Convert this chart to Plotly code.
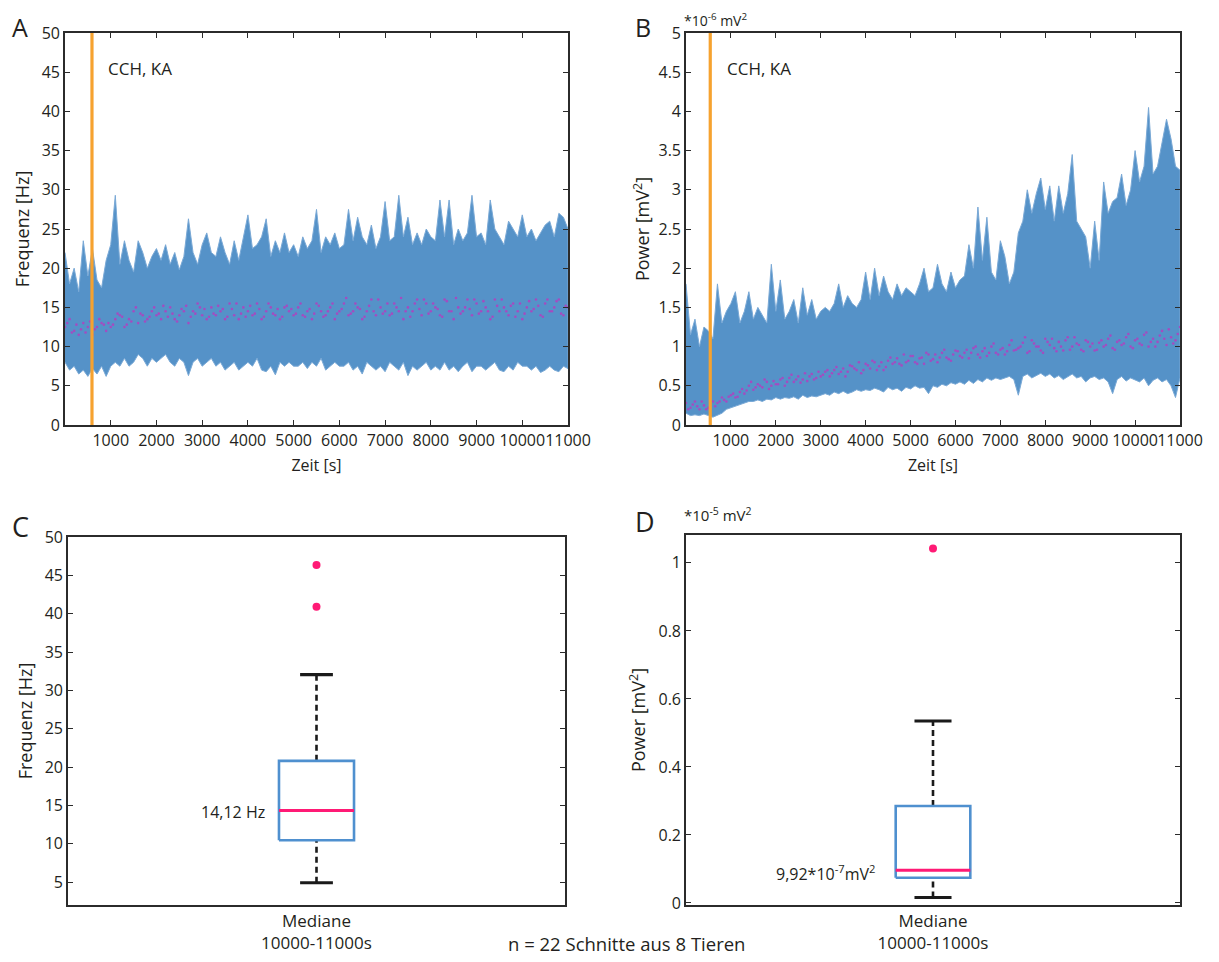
import plotly.graph_objects as go

W, H = 1219, 962
OFF = 8  # page body margin of the html output
FONT = "Open Sans"
BLUE = "#5592c8"
MAG = "#ff1a75"
PURPLE = "#b23fc0"
ORANGE = "#f6a22f"
AX = "#2b2b2b"
TXT = "#231f20"

# ---------------- data ----------------
t_main = list(range(0, 11001, 100))          # seconds
t_half = list(range(50, 11000, 100))

freq_upper = [22, 18, 20, 17, 23.5, 19, 22.5, 18.5, 17.5, 21, 23,
              29.3, 20.5, 23.5, 21, 19.5, 23.5, 22, 20, 21.5, 22.5,
              21, 23, 20.5, 22, 19.8, 21.5, 26.3, 22, 20.5, 23,
              24.5, 22, 21.5, 24, 22, 20.5, 23.5, 21, 24, 26.8,
              22.5, 23, 24, 26.3, 21.5, 23.5, 22, 24.5, 22, 23,
              21.5, 24, 22.5, 23.5, 27.5, 22, 24, 23, 24.5, 22.5,
              23, 27.5, 23.5, 26.5, 24, 23, 25.5, 22.5, 24, 28.5,
              23.5, 24, 29.3, 24, 26.5, 23, 24.5, 23, 25, 24,
              23.5, 28.7, 24, 28.7, 23, 25, 23.5, 24.5, 29.3, 24,
              24.5, 23, 28.7, 25, 24, 23, 26, 25, 24, 26.8,
              24, 25, 23.5, 24.5, 25.5, 26, 24, 27, 26.5, 25]
freq_lower = [8, 7, 7.5, 6.5, 7, 6.2, 7.2, 6.5, 7.5, 6.2, 7.5,
              8, 7.5, 8.5, 7.5, 8, 9, 8.5, 7.5, 8.5, 8,
              8.5, 9, 8, 7.5, 8.5, 8, 6.3, 8, 8.5, 7.5,
              8, 8.5, 7.5, 8, 7, 7.5, 8, 7, 7.5, 8,
              7.5, 8.5, 7, 6.8, 7.5, 6.4, 8, 7.5, 8, 7.5,
              7.5, 8, 7.2, 8, 7.5, 8.5, 7, 7.5, 8, 7.5,
              7.5, 8, 7, 7.5, 6.5, 8, 7.5, 7, 7.5, 6.8,
              8, 7.5, 7, 8, 6.3, 7.5, 7, 7.5, 8, 7,
              7.5, 7, 8, 7, 7.5, 6.8, 7.5, 8, 6.8, 7.5,
              7.5, 7, 7.5, 8, 7, 6.8, 7.5, 7, 8, 7.5,
              7.5, 7, 7.5, 6.7, 7, 7.5, 7, 6.8, 7.5, 7.2]
freq_med = [12.5, 13.5, 12, 11.5, 13, 12.5, 11.5, 12.5, 13, 12, 12.5,
            13.5, 14, 12.5, 13.5, 14.5, 13, 14, 13.5, 14.5, 14,
            13.5, 14.5, 15, 13.5, 14, 14.5, 13, 14.5, 15.5, 14,
            13.5, 15, 14, 14.5, 13.5, 15.5, 14, 13.5, 15, 14.5,
            14, 15.5, 13.5, 14.5, 15, 14, 13.5, 15, 14.5, 14,
            15, 14, 14.5, 13.5, 15.5, 14.5, 14, 15, 13.5, 14.5,
            15.5, 14, 14.5, 15, 13.5, 14.5, 16, 14, 15, 14.5,
            14, 15.5, 14.5, 13.5, 15, 14.5, 16, 14, 15.5, 14.5,
            15, 14, 16, 14.5, 13.5, 15, 14.5, 16, 14, 15.5,
            14.5, 15, 13.5, 16, 14.5, 15, 14, 15.5, 14.5, 13.5,
            15, 14.5, 16, 14, 15.5, 14.5, 15, 16, 14, 15]
freq_med2 = [13, 11.8, 12.8, 12.2, 11.8, 13.2, 12.2, 13.5, 12.8, 13,
             12.8, 14.2, 13.8, 12.8, 13.2, 15, 14.2, 13.2, 13.8, 15,
             14.2, 15.2, 13.8, 14.2, 13.2, 14.8, 15.2, 13.8, 14.2, 15,
             14.8, 13.8, 14.2, 15.2, 14.8, 13.8, 14.8, 15.5, 14.2, 13.8,
             15.2, 14.2, 14.8, 13.8, 15.5, 14.2, 14.8, 13.8, 15.2, 14.8,
             14.2, 15.5, 13.8, 14.8, 14.2, 15.2, 13.8, 14.5, 15.5, 14.2,
             14.8, 16.2, 14.2, 15.5, 14.8, 13.8, 15.2, 14.5, 16, 14.2,
             15.5, 14.2, 15, 16.2, 14.5, 13.8, 15.5, 14.8, 16, 14.2,
             15.5, 14.8, 13.8, 15.8, 14.5, 16.2, 14.2, 15, 14.8, 16,
             14.2, 15.8, 14.5, 13.8, 15.2, 16, 14.5, 15.2, 13.8, 15.5,
             14.2, 15.8, 14.8, 15.2, 13.8, 16, 14.5, 15.8, 14.2, 15.2]

pow_upper = [1.8, 1.15, 1.35, 1.0, 1.25, 1.2, 1.1, 1.8, 1.3, 1.45, 1.55,
             1.7, 1.3, 1.45, 1.7, 1.35, 1.5, 1.4, 1.3, 2.05, 1.45,
             1.85, 1.35, 1.45, 1.6, 1.3, 1.75, 1.4, 1.6, 1.35, 1.45,
             1.5, 1.45, 1.55, 1.8, 1.5, 1.65, 1.55, 1.5, 1.6, 1.95,
             1.6, 2.0, 1.65, 1.9, 1.7, 1.6, 1.8, 1.65, 1.75, 1.7,
             1.65, 1.8, 2.0, 1.7, 1.75, 2.05, 1.8, 1.7, 1.95, 1.75,
             1.85, 1.9, 2.3, 2.0, 2.78, 2.1, 2.65, 1.95, 1.85, 2.35,
             2.15, 1.8, 1.95, 2.45, 2.6, 3.0, 2.7, 2.95, 3.15, 2.75,
             3.05, 2.6, 3.05, 2.7, 2.95, 3.45, 2.6, 2.5, 2.4, 2.0,
             2.6, 2.1, 3.1, 2.7, 2.85, 2.9, 3.2, 2.8, 3.0, 3.5,
             3.1, 3.3, 4.05, 3.2, 3.3, 3.6, 3.9, 3.65, 3.3, 3.25]
pow_lower = [0.15, 0.12, 0.13, 0.12, 0.14, 0.12, 0.1, 0.12, 0.15, 0.2, 0.22,
             0.25, 0.27, 0.28, 0.3, 0.3, 0.32, 0.3, 0.33, 0.32, 0.35,
             0.33, 0.35, 0.34, 0.36, 0.33, 0.38, 0.35, 0.37, 0.36, 0.38,
             0.4, 0.38, 0.42, 0.4, 0.43, 0.4, 0.42, 0.45, 0.43, 0.45,
             0.44, 0.47, 0.45, 0.42, 0.48, 0.45, 0.47, 0.43, 0.48, 0.46,
             0.5, 0.47, 0.48, 0.4, 0.5, 0.48, 0.52, 0.5, 0.54, 0.52,
             0.55, 0.52, 0.57, 0.53, 0.58, 0.55, 0.6, 0.57, 0.6, 0.58,
             0.6, 0.62, 0.58, 0.38, 0.62, 0.65, 0.6, 0.63, 0.66, 0.62,
             0.65, 0.6, 0.63, 0.58, 0.62, 0.65, 0.6, 0.62, 0.55, 0.6,
             0.62, 0.58, 0.6, 0.55, 0.4, 0.58, 0.62, 0.56, 0.6, 0.58,
             0.55, 0.6, 0.5, 0.57, 0.6, 0.55, 0.58, 0.5, 0.35, 0.6]
pow_med = [0.28, 0.22, 0.3, 0.2, 0.25, 0.22, 0.3, 0.28, 0.35, 0.3, 0.38,
           0.35, 0.42, 0.4, 0.5, 0.45, 0.52, 0.48, 0.55, 0.5, 0.52,
           0.58, 0.5, 0.6, 0.55, 0.62, 0.58, 0.56, 0.65, 0.6, 0.62,
           0.68, 0.62, 0.7, 0.65, 0.72, 0.68, 0.75, 0.7, 0.66, 0.78,
           0.72, 0.8, 0.75, 0.7, 0.82, 0.78, 0.85, 0.76, 0.8, 0.88,
           0.8, 0.85, 0.78, 0.9, 0.84, 0.8, 0.92, 0.86, 0.82, 0.95,
           0.88, 0.92, 0.85, 0.98, 0.9, 0.94, 0.88, 1.0, 0.92, 0.96,
           0.9, 1.02, 0.95, 0.98, 1.05, 0.92, 1.08, 1.0, 0.95, 1.1,
           1.02, 0.98, 1.06, 0.95, 1.12, 1.0, 1.04, 0.96, 1.08, 1.0,
           0.95, 1.05, 1.0, 1.1, 0.98, 1.06, 1.02, 1.12, 1.0, 1.08,
           1.04, 1.15, 1.0, 1.1, 1.06, 1.2, 1.02, 1.12, 1.08, 1.25]
pow_med2 = [0.2, 0.26, 0.24, 0.3, 0.2, 0.26, 0.24, 0.3, 0.32, 0.36,
            0.4, 0.36, 0.46, 0.44, 0.55, 0.48, 0.5, 0.58, 0.46, 0.56,
            0.52, 0.6, 0.55, 0.64, 0.58, 0.54, 0.66, 0.62, 0.58, 0.68,
            0.64, 0.7, 0.66, 0.74, 0.68, 0.62, 0.76, 0.72, 0.8, 0.7,
            0.76, 0.82, 0.7, 0.8, 0.74, 0.86, 0.8, 0.78, 0.9, 0.82,
            0.88, 0.78, 0.86, 0.92, 0.82, 0.9, 0.86, 0.96, 0.84, 0.9,
            0.94, 0.86, 0.96, 0.92, 1.0, 0.86, 0.98, 0.92, 1.04, 0.9,
            0.98, 0.94, 1.08, 0.96, 1.0, 1.12, 0.94, 1.04, 1.0, 0.92,
            1.06, 1.1, 0.94, 1.0, 1.08, 0.96, 1.12, 1.02, 0.94, 1.06,
            1.04, 0.96, 1.08, 1.02, 1.14, 0.96, 1.08, 1.04, 1.16, 0.98,
            1.1, 1.02, 1.18, 1.06, 1.0, 1.14, 1.1, 1.22, 1.04, 1.16]

drug_time_freq = 590
drug_time_pow = 540
drug_label = "CCH, KA"

# box statistics (10000-11000 s)
box_freq = dict(lo=4.9, q1=10.45, med=14.32, q3=20.8, hi=32.05, out=[46.35, 40.9])
box_pow = dict(lo=0.016, q1=0.074, med=0.096, q3=0.285, hi=0.535, out=[1.042])
box_category = "Mediane<br>10000-11000s"
time_ticks = [1000, 2000, 3000, 4000, 5000, 6000, 7000, 8000, 9000, 10000, 11000]
time_ticktext = ["1000", "2000", "3000", "4000", "5000", "6000", "7000", "8000",
                 "9000", "10000", "11000"]

# ---------------- figure ----------------
fig = go.Figure()


def dom_x(a, b):
    return [(a - OFF) / W, (b - OFF) / W]


def dom_y(top, bottom):
    return [1 - (bottom - OFF) / H, 1 - (top - OFF) / H]


def add_band(t, up, lo, xa, ya):
    fig.add_trace(go.Scatter(
        x=t + t[::-1], y=up + lo[::-1], fill="toself", fillcolor=BLUE,
        line=dict(color="#7aa9d6", width=1), mode="lines", xaxis=xa, yaxis=ya,
        hoverinfo="skip", showlegend=False))


def add_dots(t, v, xa, ya):
    fig.add_trace(go.Scatter(
        x=t, y=v, mode="markers", marker=dict(color=PURPLE, size=2.6, opacity=0.85),
        xaxis=xa, yaxis=ya, showlegend=False))


def add_vline(x0, ymax, xa, ya):
    fig.add_trace(go.Scatter(
        x=[x0, x0], y=[0, ymax], mode="lines", line=dict(color=ORANGE, width=3.2),
        xaxis=xa, yaxis=ya, showlegend=False))


add_band(t_main, freq_upper, freq_lower, "x", "y")
add_dots(t_main, freq_med, "x", "y")
add_dots(t_half, freq_med2, "x", "y")
add_vline(drug_time_freq, 50, "x", "y")

add_band(t_main, pow_upper, pow_lower, "x2", "y2")
add_dots(t_main, pow_med, "x2", "y2")
add_dots(t_half, pow_med2, "x2", "y2")
add_vline(drug_time_pow, 5, "x2", "y2")

BOX_HALF = 0.151


def add_box(s, xa, ya, cap_half):
    c = 1
    kw = dict(xaxis=xa, yaxis=ya, showlegend=False, mode="lines")
    fig.add_trace(go.Scatter(x=[c, c], y=[s["q3"], s["hi"]],
                             line=dict(color="#1a1a1a", width=2.6, dash="6px,4px"), **kw))
    fig.add_trace(go.Scatter(x=[c, c], y=[s["lo"], s["q1"]],
                             line=dict(color="#1a1a1a", width=2.6, dash="6px,4px"), **kw))
    for v in (s["hi"], s["lo"]):
        fig.add_trace(go.Scatter(x=[c - cap_half, c + cap_half], y=[v, v],
                                 line=dict(color="#1a1a1a", width=3.2), **kw))
    fig.add_trace(go.Scatter(
        x=[c - BOX_HALF, c + BOX_HALF, c + BOX_HALF, c - BOX_HALF, c - BOX_HALF],
        y=[s["q1"], s["q1"], s["q3"], s["q3"], s["q1"]],
        line=dict(color="#4f90cf", width=2.6), **kw))
    fig.add_trace(go.Scatter(x=[c - BOX_HALF, c + BOX_HALF], y=[s["med"], s["med"]],
                             line=dict(color=MAG, width=3), **kw))
    fig.add_trace(go.Scatter(x=[c] * len(s["out"]), y=s["out"], mode="markers",
                             marker=dict(color=MAG, size=8), xaxis=xa, yaxis=ya,
                             showlegend=False))


add_box(box_freq, "x3", "y3", 0.066)
add_box(box_pow, "x4", "y4", 0.075)

tickfont = dict(family=FONT, size=16, color=TXT)
axcommon = dict(showline=True, linecolor=AX, linewidth=1.6, mirror="allticks",
                ticks="inside", ticklen=5, tickcolor=AX, tickwidth=1.2,
                showgrid=False, zeroline=False, tickfont=tickfont, tickangle=0,
                automargin=False)
ytitlefont = dict(family=FONT, size=18, color=TXT)
xtitlefont = dict(family=FONT, size=16, color=TXT)
catfont = dict(family=FONT, size=17, color=TXT)

xA = dom_x(65, 568)
xB = dom_x(686, 1180)
xC = dom_x(68, 565)
xD = dom_x(686, 1180)
yTop = dom_y(33, 425)
yC = dom_y(537, 905)
yD = dom_y(535, 905)

fig.update_layout(
    width=W, height=H, margin=dict(l=0, r=0, t=0, b=0),
    paper_bgcolor="white", plot_bgcolor="white",
    font=dict(family=FONT, color=TXT),
    xaxis=dict(domain=xA, anchor="y", range=[0, 11000], tickvals=time_ticks,
               ticktext=time_ticktext,
               title=dict(text="Zeit [s]", font=xtitlefont, standoff=10), **axcommon),
    yaxis=dict(domain=yTop, anchor="x", range=[0, 50], dtick=5,
               title=dict(text="Frequenz [Hz]", font=ytitlefont, standoff=7), **axcommon),
    xaxis2=dict(domain=xB, anchor="y2", range=[0, 11000], tickvals=time_ticks,
                ticktext=time_ticktext,
                title=dict(text="Zeit [s]", font=xtitlefont, standoff=10), **axcommon),
    yaxis2=dict(domain=yTop, anchor="x2", range=[0, 5], dtick=0.5,
                title=dict(text="Power [mV<sup>2</sup>]", font=ytitlefont, standoff=4), **axcommon),
    xaxis3=dict(domain=xC, anchor="y3", range=[0, 2], tickvals=[1], ticktext=[box_category],
                **{**axcommon, "ticks": "", "tickfont": catfont}),
    yaxis3=dict(domain=yC, anchor="x3", range=[2, 50], tickvals=[5, 10, 15, 20, 25, 30, 35, 40, 45, 50],
                title=dict(text="Frequenz [Hz]", font=ytitlefont, standoff=7), **axcommon),
    xaxis4=dict(domain=xD, anchor="y4", range=[0, 2], tickvals=[1], ticktext=[box_category],
                **{**axcommon, "ticks": "", "tickfont": catfont}),
    yaxis4=dict(domain=yD, anchor="x4", range=[-0.006, 1.082], tickvals=[0, 0.2, 0.4, 0.6, 0.8, 1],
                ticktext=["0", "0.2", "0.4", "0.6", "0.8", "1"],
                title=dict(text="Power [mV<sup>2</sup>]", font=ytitlefont, standoff=8), **axcommon),
)

ann = []


def paper_text(x, y, text, size, xanchor="left", yanchor="middle"):
    ann.append(dict(x=(x - OFF) / W, y=1 - (y - OFF) / H, xref="paper", yref="paper",
                    text=text, showarrow=False, xanchor=xanchor, yanchor=yanchor,
                    font=dict(family=FONT, size=size, color=TXT)))


paper_text(10, 8, "A", 25, yanchor="top")
paper_text(633, 8, "B", 25, yanchor="top")
paper_text(10, 526, "C", 27)
paper_text(633, 521, "D", 27)
paper_text(682, 8, "*10<sup>-6</sup> mV<sup>2</sup>", 14, yanchor="top")
paper_text(682, 515, "*10<sup>-5</sup> mV<sup>2</sup>", 15)
paper_text(626, 943, "n = 22 Schnitte aus 8 Tieren", 18.5, xanchor="center")

ann.append(dict(x=900, y=45.5, xref="x", yref="y", text=drug_label, showarrow=False,
                xanchor="left", yanchor="middle", font=dict(family=FONT, size=17, color=TXT)))
ann.append(dict(x=860, y=4.55, xref="x2", yref="y2", text=drug_label, showarrow=False,
                xanchor="left", yanchor="middle", font=dict(family=FONT, size=17, color=TXT)))
ann.append(dict(x=0.80, y=14.1, xref="x3", yref="y3", text="14,12 Hz", showarrow=False,
                xanchor="right", yanchor="middle", font=dict(family=FONT, size=16, color=TXT)))
ann.append(dict(x=0.775, y=0.088, xref="x4", yref="y4",
                text="9,92*10<sup>-7</sup>mV<sup>2</sup>", showarrow=False,
                xanchor="right", yanchor="middle", font=dict(family=FONT, size=16, color=TXT)))
fig.update_layout(annotations=ann)

fig.write_html("out.html")
